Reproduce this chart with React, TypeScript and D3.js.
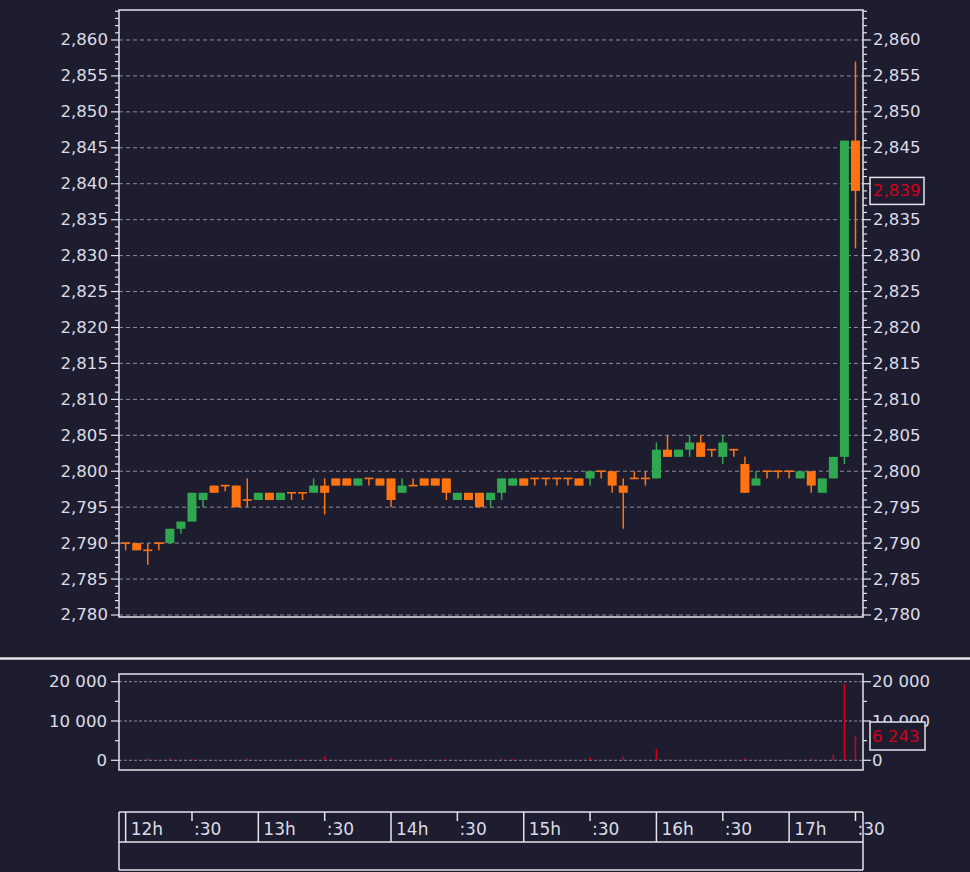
import React from 'react';
import * as d3 from 'd3';

const W = 970;
const H = 872;
const BG = '#1e1d30';
const FG = '#dcdce6';
const LINE = '#e4e4ea';
const GRID = '#8e8e9c';
const UP = '#2fa84f';
const DOWN = '#ff7410';
const RED = '#d4001a';
const FONT = '"DejaVu Sans", Verdana, sans-serif';
const FS = 16.6;

// 5-minute candles starting 12:00
const opens = [
  2790, 2790, 2789, 2790, 2790, 2792, 2793, 2796, 2798, 2798,
  2798, 2796, 2796, 2797, 2796, 2797, 2797, 2797, 2798, 2799,
  2799, 2798, 2799, 2799, 2799, 2797, 2798, 2799, 2799, 2799,
  2796, 2797, 2797, 2796, 2797, 2798, 2799, 2799, 2799, 2799,
  2799, 2799, 2799, 2800, 2800, 2798, 2799, 2799, 2799, 2803,
  2802, 2803, 2804, 2803, 2802, 2803, 2801, 2798, 2800, 2800,
  2800, 2799, 2800, 2797, 2799, 2802, 2846,
];
const highs = [
  2790, 2790, 2790, 2790, 2792, 2793, 2797, 2797, 2798, 2798,
  2798, 2799, 2797, 2797, 2797, 2797, 2797, 2799, 2799, 2799,
  2799, 2799, 2799, 2799, 2799, 2799, 2799, 2799, 2799, 2799,
  2797, 2797, 2797, 2797, 2799, 2799, 2799, 2799, 2799, 2799,
  2799, 2799, 2800, 2800, 2800, 2799, 2800, 2800, 2804, 2805,
  2803, 2805, 2805, 2803, 2805, 2803, 2802, 2800, 2800, 2800,
  2800, 2800, 2800, 2799, 2802, 2846, 2857,
];
const lows = [
  2789, 2789, 2787, 2789, 2790, 2791.3, 2793, 2795, 2797, 2797.2,
  2795, 2795, 2796, 2796, 2796, 2796, 2796, 2797, 2794, 2798,
  2798, 2798, 2798, 2798, 2795, 2797, 2798, 2798, 2798, 2796,
  2796, 2796, 2795, 2795, 2796, 2798, 2798, 2798, 2798, 2798,
  2798, 2798, 2798, 2799, 2797, 2792, 2799, 2798, 2799, 2802,
  2802, 2802, 2802, 2802, 2801, 2802, 2797, 2798, 2799, 2799,
  2799, 2799, 2797, 2797, 2799, 2801, 2831,
];
const closes = [
  2790, 2789, 2789, 2790, 2792, 2793, 2797, 2797, 2797, 2798,
  2795, 2796, 2797, 2796, 2797, 2797, 2797, 2798, 2797, 2798,
  2798, 2799, 2799, 2798, 2796, 2798, 2798, 2798, 2798, 2797,
  2797, 2796, 2795, 2797, 2799, 2799, 2798, 2799, 2799, 2799,
  2799, 2798, 2800, 2800, 2798, 2797, 2799, 2799, 2803, 2802,
  2803, 2804, 2802, 2803, 2804, 2803, 2797, 2799, 2800, 2800,
  2800, 2800, 2798, 2799, 2802, 2846, 2839,
];
const volumes = [
  150, 100, 600, 150, 600, 200, 300, 150, 100, 100,
  200, 500, 100, 100, 100, 100, 250, 150, 950, 100,
  100, 100, 100, 100, 700, 150, 100, 100, 100, 250,
  100, 100, 100, 150, 500, 300, 100, 100, 100, 100,
  100, 100, 800, 100, 150, 950, 100, 100, 2950, 300,
  150, 100, 100, 100, 100, 100, 600, 150, 100, 100,
  250, 100, 500, 150, 1400, 19500, 6243,
];
const priceMajorTicks = [2780, 2785, 2790, 2795, 2800, 2805, 2810, 2815, 2820, 2825, 2830, 2835, 2840, 2845, 2850, 2855, 2860];
const volumeMajorTicks = [0, 10000, 20000];
const volumeMinorTicks = [5000, 15000];

const day = (h: number, m: number, s = 0) => new Date(2024, 0, 2, h, m, s);
const times = opens.map((_, i) => day(12, 5 * i));

// layout
const PL = 119, PR = 863;
const MAIN_T = 10, MAIN_B = 617;
const VOL_T = 674, VOL_B = 770;
const TA_T = 812, TA_M = 842, TA_B = 870;

export default function App() {
  const x = d3.scaleTime().domain([day(11, 57), day(17, 33, 24)]).range([PL, PR]);
  const y = d3.scaleLinear().domain([2779.72, 2864.17]).range([MAIN_B, MAIN_T]);
  const yv = d3.scaleLinear().domain([-2468, 21960]).range([VOL_B, VOL_T]);
  const fmtPrice = d3.format(',');
  const volLocale = d3.formatLocale({ decimal: '.', thousands: ' ', grouping: [3], currency: ['', ''] });
  const fmtVol = volLocale.format(',');
  const minorPrice = d3.range(2780, 2865, 1);
  const halfHours = x.ticks(d3.timeMinute.every(30)!).filter((d) => d >= day(12, 0));
  const bodyW = 9;
  const last = closes[closes.length - 1];
  const lastVol = volumes[volumes.length - 1];

  return (
    <svg width={W} height={H} style={{ position: 'absolute', left: 0, top: 0, display: 'block', background: BG }} fontFamily={FONT}>
      <rect x={0} y={0} width={W} height={H} fill={BG} />

      {/* main gridlines */}
      {priceMajorTicks.map((v) => (
        <line key={'g' + v} x1={PL} x2={PR} y1={y(v)} y2={y(v)} stroke={GRID} strokeWidth={1} strokeDasharray="4,3" />
      ))}

      {/* candles */}
      {times.map((t, i) => {
        const cx = x(t);
        const o = opens[i], c = closes[i];
        const col = c > o ? UP : DOWN;
        const top = y(Math.max(o, c));
        const bot = y(Math.min(o, c));
        const h = Math.max(bot - top, 1.6);
        return (
          <g key={'c' + i}>
            <line x1={cx} x2={cx} y1={y(highs[i])} y2={y(lows[i])} stroke={col} strokeWidth={1.5} />
            <rect x={cx - bodyW / 2} y={top - (bot - top < 1.6 ? 0.8 : 0)} width={bodyW} height={h} fill={col} />
          </g>
        );
      })}

      {/* main frame */}
      <rect x={PL} y={MAIN_T} width={PR - PL} height={MAIN_B - MAIN_T} fill="none" stroke={LINE} strokeWidth={1.5} />

      {/* main axes ticks */}
      {minorPrice.map((v) => {
        const major = v % 5 === 0;
        const len = major ? 8 : 4;
        return (
          <g key={'t' + v}>
            <line x1={PL - len} x2={PL} y1={y(v)} y2={y(v)} stroke={LINE} strokeWidth={1.2} />
            <line x1={PR} x2={PR + len} y1={y(v)} y2={y(v)} stroke={LINE} strokeWidth={1.2} />
          </g>
        );
      })}
      {priceMajorTicks.map((v) => (
        <g key={'l' + v} fontSize={FS} fill={FG}>
          <text x={108} y={y(v)} textAnchor="end" dominantBaseline="central">{fmtPrice(v)}</text>
          <text x={873} y={y(v)} textAnchor="start" dominantBaseline="central">{fmtPrice(v)}</text>
        </g>
      ))}

      {/* last price label */}
      <rect x={870} y={y(last) - 13.5} width={54} height={27} fill={BG} stroke={LINE} strokeWidth={1.5} />
      <text x={873} y={y(last)} fontSize={FS} fill={RED} dominantBaseline="central">{fmtPrice(last)}</text>

      {/* separator */}
      <line x1={0} x2={W} y1={658.5} y2={658.5} stroke={LINE} strokeWidth={2.5} />

      {/* volume pane */}
      {volumeMajorTicks.map((v) => (
        <line key={'vg' + v} x1={PL} x2={PR} y1={yv(v)} y2={yv(v)} stroke={GRID} strokeWidth={1} strokeDasharray="3,2" />
      ))}
      {times.map((t, i) => (
        <line key={'v' + i} x1={x(t)} x2={x(t)} y1={yv(0)} y2={yv(volumes[i])} stroke={RED} strokeWidth={1.5} />
      ))}
      <rect x={PL} y={VOL_T} width={PR - PL} height={VOL_B - VOL_T} fill="none" stroke={LINE} strokeWidth={1.5} />
      {volumeMajorTicks.concat(volumeMinorTicks).map((v) => {
        const major = volumeMajorTicks.includes(v);
        const len = major ? 8 : 4;
        return (
          <g key={'vt' + v}>
            <line x1={PL - len} x2={PL} y1={yv(v)} y2={yv(v)} stroke={LINE} strokeWidth={1.2} />
            <line x1={PR} x2={PR + len} y1={yv(v)} y2={yv(v)} stroke={LINE} strokeWidth={1.2} />
          </g>
        );
      })}
      {volumeMajorTicks.map((v) => (
        <g key={'vl' + v} fontSize={FS} fill={FG}>
          <text x={107} y={yv(v)} textAnchor="end" dominantBaseline="central">{fmtVol(v)}</text>
          <text x={872} y={yv(v)} textAnchor="start" dominantBaseline="central">{fmtVol(v)}</text>
        </g>
      ))}
      <rect x={870} y={722} width={55} height={28} fill={BG} stroke={LINE} strokeWidth={1.5} />
      <text x={872} y={736} fontSize={FS} fill={RED} dominantBaseline="central">{fmtVol(lastVol)}</text>

      {/* time axis */}
      <line x1={PL} x2={PR} y1={TA_T} y2={TA_T} stroke={LINE} strokeWidth={1.5} />
      <line x1={PL} x2={PR} y1={TA_M} y2={TA_M} stroke={LINE} strokeWidth={1.5} />
      <line x1={PL} x2={PR} y1={TA_B} y2={TA_B} stroke={LINE} strokeWidth={1.5} />
      <line x1={PL} x2={PL} y1={TA_T} y2={TA_B} stroke={LINE} strokeWidth={1.5} />
      <line x1={PR} x2={PR} y1={TA_T} y2={TA_B} stroke={LINE} strokeWidth={1.5} />
      {halfHours.map((d) => {
        const isHour = d.getMinutes() === 0;
        const px = x(d);
        return (
          <g key={'ta' + d.getTime()}>
            <line x1={px} x2={px} y1={TA_T} y2={isHour ? TA_M : TA_T + 9} stroke={LINE} strokeWidth={1.5} />
            <text x={px + (isHour ? 5 : 2)} y={835} fontSize={17} fill={FG}>
              {isHour ? `${d.getHours()}h` : ':30'}
            </text>
          </g>
        );
      })}
    </svg>
  );
}
